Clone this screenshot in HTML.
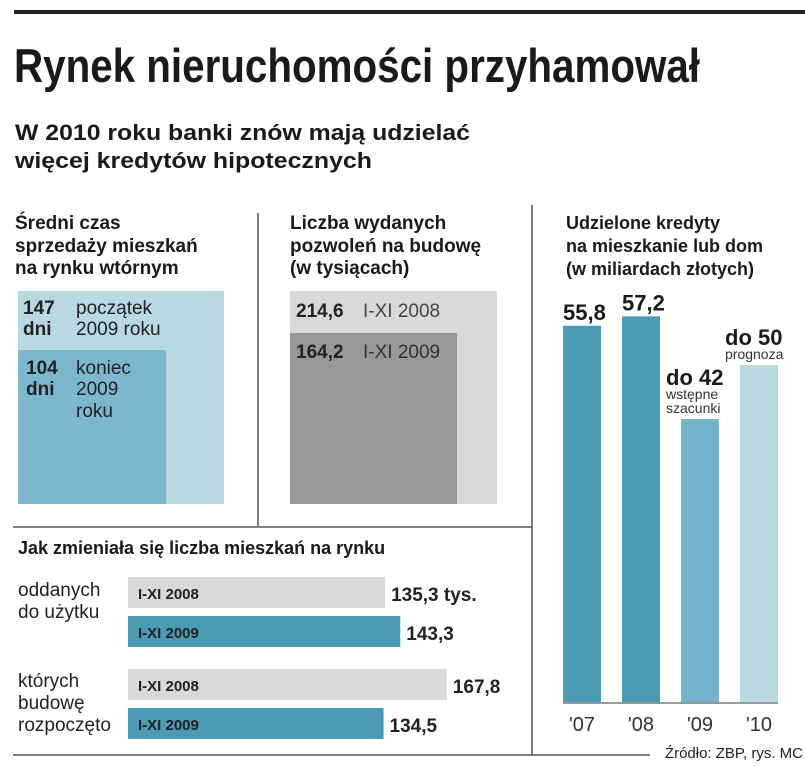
<!DOCTYPE html>
<html><head><meta charset="utf-8"><style>
html,body{margin:0;padding:0;background:#fff;}
svg{display:block;font-family:"Liberation Sans",sans-serif;}
</style></head><body>
<svg id="chart" width="805" height="766" viewBox="0 0 805 766" xmlns="http://www.w3.org/2000/svg">
<rect x="14" y="10" width="791" height="4" fill="#222"/>
<text x="14" y="82" font-size="47" font-weight="bold" fill="#1a1a1a" textLength="686" lengthAdjust="spacingAndGlyphs">Rynek nieruchomości przyhamował</text>
<text x="15" y="140" font-size="22" font-weight="bold" fill="#1a1a1a" textLength="455" lengthAdjust="spacingAndGlyphs">W 2010 roku banki znów mają udzielać</text>
<text x="15" y="168" font-size="22" font-weight="bold" fill="#1a1a1a" textLength="357" lengthAdjust="spacingAndGlyphs">więcej kredytów hipotecznych</text>

<line x1="258" y1="213" x2="258" y2="526" stroke="#555" stroke-width="1.5"/>
<line x1="13" y1="527" x2="532" y2="527" stroke="#555" stroke-width="1.5"/>
<line x1="532" y1="205" x2="532" y2="755" stroke="#555" stroke-width="1.5"/>
<line x1="13" y1="755" x2="650" y2="755" stroke="#555" stroke-width="1.5"/>

<g font-size="19" font-weight="bold" fill="#1a1a1a">
<text x="15" y="229">Średni czas</text><text x="15" y="252">sprzedaży mieszkań</text><text x="15" y="274">na rynku wtórnym</text></g>
<rect x="18" y="291" width="206" height="213" fill="#b9d9e2"/>
<rect x="18" y="350" width="148" height="154" fill="#7db7ce"/>
<g font-size="19" fill="#222">
<text x="23" y="314" font-weight="bold">147</text>
<text x="23" y="335" font-weight="bold">dni</text>
<text x="76" y="314">początek</text>
<text x="76" y="335">2009 roku</text>
<text x="26" y="374" font-weight="bold">104</text>
<text x="26" y="395" font-weight="bold">dni</text>
<text x="76" y="374">koniec</text>
<text x="76" y="395">2009</text>
<text x="76" y="417">roku</text></g>

<g font-size="19" font-weight="bold" fill="#1a1a1a">
<text x="290" y="229">Liczba wydanych</text><text x="290" y="252">pozwoleń na budowę</text><text x="290" y="274">(w tysiącach)</text></g>
<rect x="290" y="291" width="207" height="213" fill="#d9d9d9"/>
<rect x="290" y="333" width="167" height="171" fill="#97989a"/>
<g font-size="19" fill="#222">
<text x="296" y="317" font-weight="bold">214,6</text>
<text x="363" y="317" fill="#444">I-XI 2008</text>
<text x="296" y="358" font-weight="bold">164,2</text>
<text x="363" y="358" fill="#333">I-XI 2009</text></g>

<text x="18" y="554" font-size="18" font-weight="bold" fill="#1a1a1a">Jak zmieniała się liczba mieszkań na rynku</text>
<g font-size="19" fill="#222">
<text x="18" y="596">oddanych</text><text x="18" y="618">do użytku</text>
<text x="18" y="687">których</text><text x="18" y="709">budowę</text><text x="18" y="731">rozpoczęto</text></g>
<g id="hbars"></g>

<g font-size="18" font-weight="bold" fill="#1a1a1a">
<text x="566" y="229">Udzielone kredyty</text><text x="566" y="252">na mieszkanie lub dom</text><text x="566" y="275">(w miliardach złotych)</text></g>
<g id="vbars"></g>
<text x="803" y="758" font-size="15" fill="#222" text-anchor="end">Źródło: ZBP, rys. MC</text>
</svg>
<script>
const hGroups = ["oddanych", "rozpoczeto"];
const hSeries2008 = [135.3, 167.8];
const hSeries2009 = [143.3, 134.5];
const hValueLabels2008 = ["135,3 tys.", "167,8"];
const hValueLabels2009 = ["143,3", "134,5"];

const vCategories = ["'07", "'08", "'09", "'10"];
const vValues = [55.8, 57.2, 42, 50];
const vLabels = ["55,8", "57,2", "do 42", "do 50"];
const vNotes = [[], [], ["wstępne", "szacunki"], ["prognoza"]];

const NS = "http://www.w3.org/2000/svg";
function mk(tag, attrs, parent, txt) {
  const e = document.createElementNS(NS, tag);
  for (const k in attrs) e.setAttribute(k, attrs[k]);
  if (txt !== undefined) e.textContent = txt;
  parent.appendChild(e);
  return e;
}
const hx = v => 128 + v * 1.9;
const hG = document.getElementById('hbars');
const groupTop = [577, 669];
hGroups.forEach((g, i) => {
  const rows = [
    {v: hSeries2008[i], lab: "I-XI 2008", val: hValueLabels2008[i], col: "#d9d9d9", y: groupTop[i]},
    {v: hSeries2009[i], lab: "I-XI 2009", val: hValueLabels2009[i], col: "#4a9bb3", y: groupTop[i] + 39}
  ];
  rows.forEach((r, j) => {
    const b = mk('rect', {x: 128, y: r.y, width: hx(r.v) - 128, height: 31, fill: r.col}, hG);
    
    
    const t = mk('text', {x: 138, y: r.y + 22, 'font-size': 15, 'font-weight': 'bold', fill: '#222'}, hG, r.lab);
    
    
    const vt = mk('text', {x: hx(r.v) + 6, y: r.y + 24, 'font-size': 19, 'font-weight': 'bold', fill: '#222'}, hG, r.val);
    
    
  });
});
const base = 703;
const vy = v => base - v * 6.76;
const vx = i => 563 + i * 59;
const vCols = ["#4a9bb3", "#4a9bb3", "#74b1cb", "#b9d9e2"];
const vG = document.getElementById('vbars');
vCategories.forEach((c, i) => {
  const b = mk('rect', {x: vx(i), y: vy(vValues[i]), width: 38, height: base - vy(vValues[i]), fill: vCols[i]}, vG);
  
  
  const yl = mk('text', {x: vx(i) + 19, y: 731, 'font-size': 20, fill: '#333', 'text-anchor': 'middle'}, vG, c);
  
  
  const notes = vNotes[i];
  const top = vy(vValues[i]) - 6 - notes.length * 14;
  const lx = i >= 2 ? vx(i) - 15 : vx(i);
  const vl = mk('text', {x: lx, y: top, 'font-size': 22, 'font-weight': 'bold', fill: '#1a1a1a'}, vG, vLabels[i]);
  
  
  notes.forEach((n, k) => {
    const nt = mk('text', {x: lx, y: top + 14 * (k + 1), 'font-size': 14, fill: '#333'}, vG, n);
    
    
  });
});
const ax = mk('line', {x1: 563, x2: 778, y1: base, y2: base, stroke: '#999', 'stroke-width': 2}, vG);


</script>
</body></html>
